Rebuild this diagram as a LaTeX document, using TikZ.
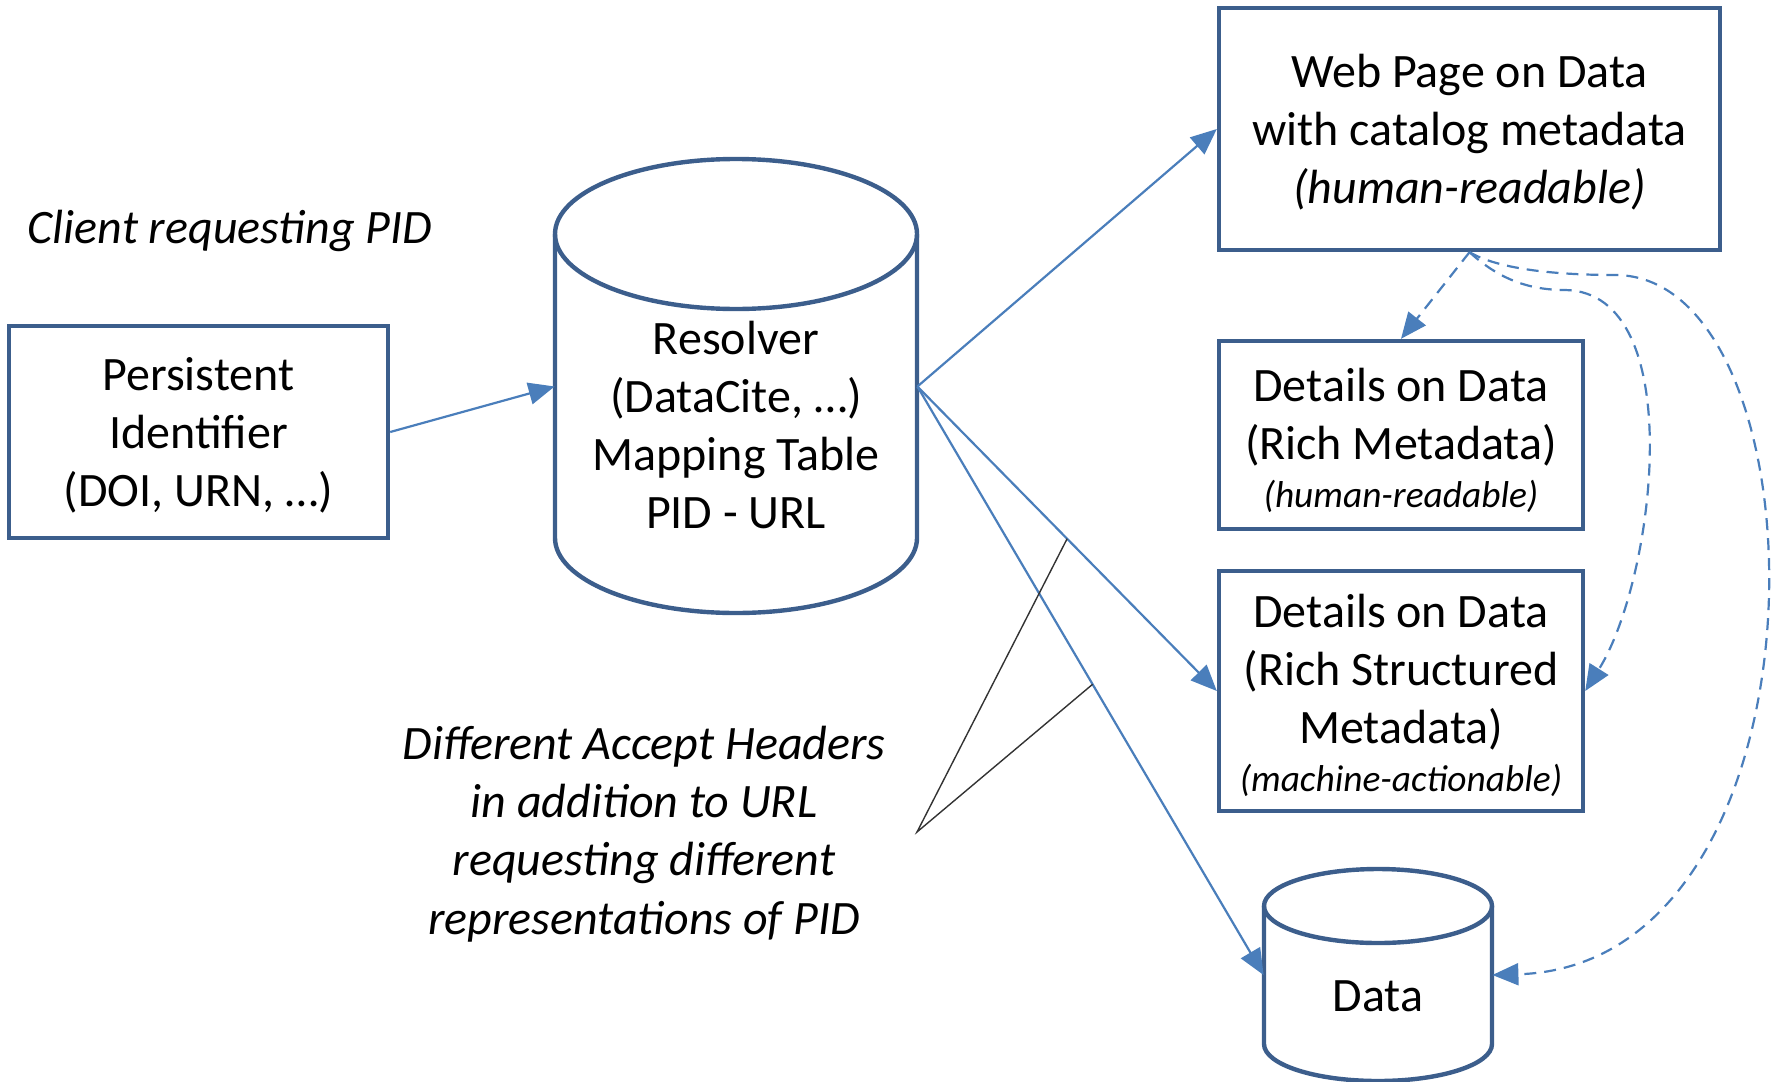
\documentclass[tikz,border=0pt]{standalone}
\usepackage{fontspec}
\setmainfont{Carlito}
\usetikzlibrary{arrows.meta}
\definecolor{outline}{HTML}{3C5E8C}
\definecolor{link}{HTML}{4A7EBB}
\definecolor{pointer}{HTML}{333333}
\newcommand{\minor}[1]{{\fontsize{18.7}{26}\selectfont\itshape #1}}

\begin{document}
\begin{tikzpicture}[x=0.5pt, y=0.5pt,
  every node/.style={font=\fontsize{24}{29}\selectfont, align=center, inner sep=0pt},
  box/.style={draw=outline, line width=2.2pt, rectangle},
  can/.style={draw=outline, line width=2.2pt},
  hull/.style={rectangle, draw=none},
  conn/.style={draw=link, line width=1.1pt, -{Triangle[length=13pt,width=11pt]}},
  dconn/.style={conn, dash pattern=on 6pt off 4pt},
  pointer/.style={draw=pointer, line width=0.7pt},
  note/.style={font=\fontsize{24}{29.1}\selectfont\itshape}
]
\useasboundingbox (0,0) rectangle (1775,-1081);

% --- boxes (outline) and their captions ---
\node[box, minimum width=189.5pt, minimum height=106pt] (pid) at (198.5,-432) {};
\node (pidtxt) at ([yshift=-1.7pt]pid.center) {Persistent\\Identifier\\(DOI, URN, …)};

\node[box, minimum width=250.5pt, minimum height=121pt] (web) at (1469.5,-129) {};
\node (webtxt) at ([yshift=-1.7pt]web.center)
  {Web Page on Data\\with catalog metadata\\\textit{(human-readable)}};

\node[box, minimum width=182pt, minimum height=94pt] (rm) at (1401,-435) {};
\node (rmtxt) at ([yshift=-2.6pt]rm.center)
  {Details on Data\\(Rich Metadata)\\[-5pt]\minor{(human-readable)}};

\node[box, minimum width=182pt, minimum height=120pt] (rs) at (1401,-691) {};
\node (rstxt) at ([yshift=-2.2pt]rs.center)
  {Details on Data\\(Rich Structured\\Metadata)\\[-5pt]\minor{(machine-actionable)}};

% --- resolver database ---
\draw[can] (555,-234) -- (555,-538) arc[start angle=180, end angle=360, x radius=181, y radius=75] -- (917,-234);
\draw[can] (736,-234) ellipse[x radius=181, y radius=75];
\node[hull, minimum width=181pt, minimum height=226.5pt] (res) at (736,-386.5) {};
\node (reslbl) at (736,-425) {Resolver\\(DataCite, …)\\Mapping Table\\PID - URL};

% --- data store ---
\draw[can] (1264,-906) -- (1264,-1044) arc[start angle=180, end angle=360, x radius=114, y radius=37] -- (1492,-906);
\draw[can] (1378,-906) ellipse[x radius=114, y radius=37];
\node[hull, minimum width=114pt, minimum height=106pt] (data) at (1378,-975) {};
\node (datalbl) at (1378,-996) {Data};

% --- free text ---
\node[note] (client) at (230,-231) {Client requesting PID};
\node[note] (accept) at (644,-834)
  {Different Accept Headers\\in addition to URL\\requesting different\\representations of PID};

% --- connectors ---
\draw[conn] (pid.east) -- (res.west);
\draw[conn] (res.east) -- (web.west);
\draw[conn] (res.east) -- coordinate[pos=0.5] (hdrA) (rs.west);
\draw[conn] (res.east) -- coordinate[pos=0.506] (hdrB) (data.west);

\draw[dconn] (web.south) -- (rm.north);
\draw[dconn] (web.south) .. controls (1500,-280) and (1530,-290) .. (1565,-290)
  .. controls (1690,-292) and (1655,-580) .. (rs.east);
\draw[dconn] (web.south) .. controls (1500,-270) and (1560,-275) .. (1615,-275)
  .. controls (1830,-275) and (1840,-965) .. (data.east);

% --- callout lines from the note ---
\coordinate (apex) at (917,-832);
\draw[pointer] (hdrA) -- (apex) -- (hdrB);
\end{tikzpicture}
\end{document}
